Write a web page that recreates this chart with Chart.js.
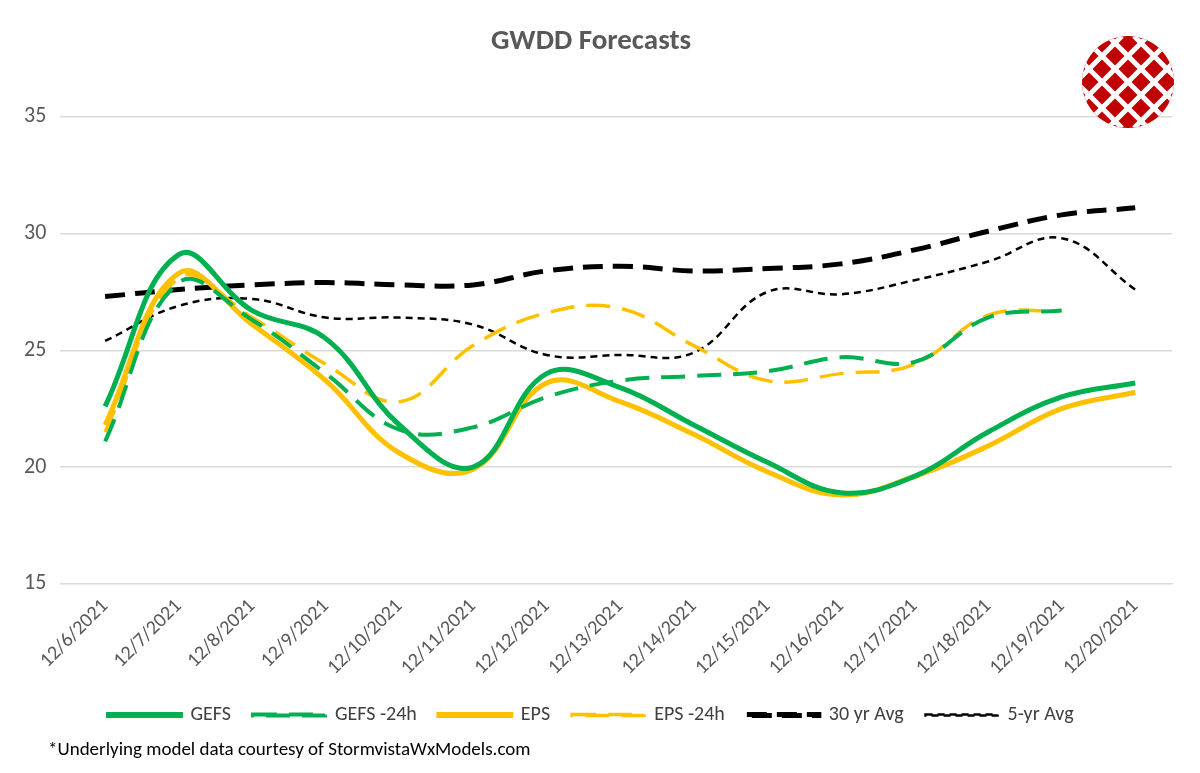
<!DOCTYPE html>
<html>
<head>
<meta charset="utf-8">
<script src="https://cdn.jsdelivr.net/npm/chart.js@4/dist/chart.umd.min.js"></script>
<style>
  body { margin: 0; background: #fff; font-family: Carlito, Calibri, "Open Sans", sans-serif; }
  #wrap { position: relative; width: 1200px; height: 773px; }
  #note { position: absolute; left: 48px; top: 737px; font-size: 19px; color: #000; }
</style>
</head>
<body>
<div id="wrap">
  <canvas id="myChart" width="1200" height="773"></canvas>
  <div id="note">*Underlying model data courtesy of StormvistaWxModels.com</div>
</div>
<script>
// GWDD forecast data
const dates = ["12/6/2021", "12/7/2021", "12/8/2021", "12/9/2021", "12/10/2021", "12/11/2021", "12/12/2021", "12/13/2021",
	"12/14/2021", "12/15/2021", "12/16/2021", "12/17/2021", "12/18/2021", "12/19/2021", "12/20/2021"];
const gefs = [22.6, 29.1, 26.7, 25.5, 21.8, 20.0, 24.0, 23.4, 21.8, 20.2, 18.9, 19.6, 21.5, 23.0, 23.6];
const gefsPrev = [21.1, 27.9, 26.3, 24.0, 21.6, 21.7, 23.0, 23.7, 23.9, 24.1, 24.7, 24.5, 26.4, 26.7, null];
const eps = [21.8, 28.3, 26.1, 23.7, 20.6, 19.9, 23.6, 22.8, 21.4, 19.8, 18.8, 19.6, 20.9, 22.5, 23.2];
const epsPrev = [21.5, 28.1, 26.4, 24.4, 22.8, 25.2, 26.6, 26.8, 25.2, 23.7, 24.0, 24.4, 26.5, 26.7, null];
const avg30 = [27.3, 27.6, 27.8, 27.9, 27.8, 27.8, 28.4, 28.6, 28.4, 28.5, 28.7, 29.3, 30.1, 30.8, 31.1];
const avg5 = [25.4, 26.9, 27.2, 26.4, 26.4, 26.1, 24.8, 24.8, 24.9, 27.5, 27.4, 28.0, 28.8, 29.8, 27.6];
const yTicks = [15, 20, 25, 30, 35];

const green = "#00b050";
const gold = "#ffc000";
const font = "Carlito, Calibri, 'Open Sans', sans-serif";

function series(label, data, color, width, dash) {
	return {
		label: label,
		data: data,
		borderColor: color,
		backgroundColor: "rgba(0,0,0,0)",
		borderWidth: width,
		borderDash: dash,
		pointRadius: 0,
		tension: 0.4,
		fill: false,
	};
}

// simple logo in the top right corner
const logo = {
	id: "logo",
	afterDraw(chart) {
		const c = chart.ctx;
		const cx = 1128, cy = 82, r = 46;
		c.save();
		c.beginPath();
		c.arc(cx, cy, r, 0, Math.PI * 2);
		c.clip();
		c.fillStyle = "#c00000";
		c.fillRect(cx - r, cy - r, r * 2, r * 2);
		c.strokeStyle = "#fff";
		c.lineWidth = 5;
		for (let k = -4; k <= 4; k++) {
			c.beginPath();
			c.moveTo(cx - r + k * 26, cy - r);
			c.lineTo(cx + r + k * 26, cy + r);
			c.stroke();
			c.beginPath();
			c.moveTo(cx + r + k * 26, cy - r);
			c.lineTo(cx - r + k * 26, cy + r);
			c.stroke();
		}
		c.restore();
	},
};

const ctx = document.getElementById("myChart").getContext("2d");
const myChart = new Chart(ctx, {
	type: "line",
	data: {
		labels: dates,
		datasets: [
			series("GEFS", gefs, green, 5, []),
			series("GEFS -24h", gefsPrev, green, 4, [24, 12]),
			series("EPS", eps, gold, 5, []),
			series("EPS -24h", epsPrev, gold, 3.5, [24, 12]),
			series("30 yr Avg", avg30, "#000", 5, [20, 10]),
			series("5-yr Avg", avg5, "#000", 2.5, [7, 5]),
		],
	},
	plugins: [logo],
	options: {
		responsive: false,
		animation: false,
		layout: { padding: { left: 10, right: 28, top: 10, bottom: 38 } },
		plugins: {
			title: {
				display: true,
				text: "GWDD Forecasts",
				color: "#595959",
				font: { size: 29, weight: "bold", family: font },
				padding: { top: 14, bottom: 58 },
			},
			legend: {
				position: "bottom",
				labels: {
					boxWidth: 72,
					boxHeight: 1,
					color: "#404040",
					padding: 22,
					font: { size: 20, family: font },
				},
			},
			tooltip: { enabled: false },
		},
		scales: {
			x: {
				offset: true,
				grid: { display: false },
				border: { color: "#d9d9d9" },
				ticks: {
					maxRotation: 45,
					minRotation: 45,
					color: "#595959",
					font: { size: 20, family: font },
				},
			},
			y: {
				min: 15,
				max: 35,
				afterBuildTicks: (axis) => { axis.ticks = yTicks.map((v) => ({ value: v })); },
				grid: { color: "#d9d9d9", lineWidth: 1.5 },
				border: { display: false },
				ticks: {
					color: "#595959",
					padding: 14,
					font: { size: 22, family: font },
				},
			},
		},
	},
});
</script>
</body>
</html>
